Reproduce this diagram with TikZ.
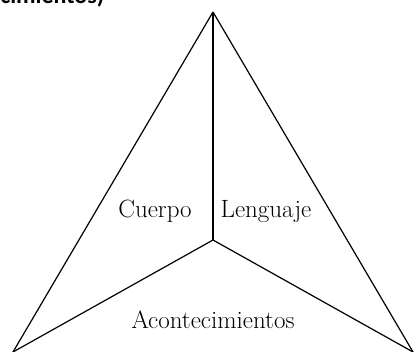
\documentclass[tikz,border=0pt]{standalone}
\usepackage{fontspec}
\newfontfamily\titlefont{Carlito}

\begin{document}
\begin{tikzpicture}[x=1pt,y=1pt,line width=1.2pt,
	label/.style={font=\fontsize{25}{30}\selectfont,anchor=base}]
	\useasboundingbox (0,0) rectangle (414,352);
	\clip (0,0) rectangle (414,352);

	\coordinate (Apex) at (213,340);
	\coordinate (Centre) at (213,112);
	\coordinate (siteL) at (13,0);
	\coordinate (siteR) at (413,0);

	\draw (Apex) -- (siteL);
	\draw (Apex) -- (siteR);
	\draw (Centre) -- (Apex);
	\draw (Centre) -- (siteL);
	\draw (Centre) -- (siteR);

	\node[label] (cuerpo) at (155,134) {Cuerpo};
	\node[label] (lenguaje) at (266,134) {Lenguaje};
	\node[label] (acont) at (213,23) {Acontecimientos};

	\node[font=\titlefont\bfseries\fontsize{24}{28}\selectfont,anchor=base east,inner sep=0pt]
		(titulo) at (105,348) {Acontecimientos)};
\end{tikzpicture}
\end{document}
